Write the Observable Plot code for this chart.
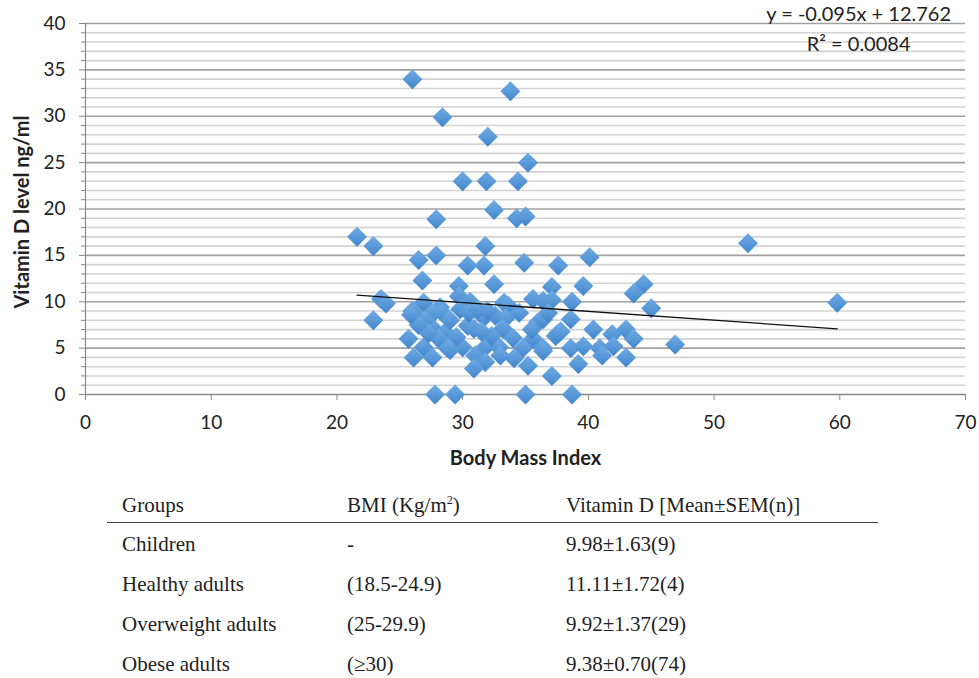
<!DOCTYPE html>
<html>
<head>
<meta charset="utf-8">
<script src="https://cdn.jsdelivr.net/npm/d3@7"></script>
<script src="https://cdn.jsdelivr.net/npm/@observablehq/plot@0.6"></script>
<style>
  html, body { margin: 0; padding: 0; background: #fff; }
  #chart { width: 979px; height: 478px; }
  #tbl { position: absolute; left: 107px; top: 489px; width: 771px; border-collapse: collapse;
         font-family: "Liberation Serif", "Times New Roman", serif; font-size: 21px; color: #222; }
  #tbl td, #tbl th { padding: 0; font-weight: normal; text-align: left; white-space: nowrap; }
  #tbl th { height: 33px; border-bottom: 1px solid #444; vertical-align: middle; }
  #tbl td { height: 40px; vertical-align: middle; padding-top: 3px; box-sizing: border-box; }
  #tbl .c1 { width: 225px; padding-left: 15px; }
  #tbl .c2 { width: 219px; }
</style>
</head>
<body>
<div id="chart"></div>
<table id="tbl"><thead></thead><tbody></tbody></table>
<script>
// BMI values (x) and vitamin D levels (y)
const bmi = [
  26.0, 33.8, 28.4, 32.0, 35.2, 30.0, 31.9, 34.4, 32.5, 27.9, 34.3, 35.0, 21.6, 22.9, 31.8, 52.7,
  26.5, 27.9, 30.4, 31.7, 34.9, 37.6, 40.1, 26.8, 29.7, 32.5, 37.1, 39.6, 44.4, 43.6, 45.0, 59.8,
  46.9, 23.5, 23.9, 22.9, 26.9, 28.2, 29.7, 30.6, 33.3, 35.6, 36.4, 37.1, 38.7, 29.8, 33.6, 26.3,
  27.6, 28.4, 31.7, 32.6, 33.4, 36.0, 36.4, 38.6, 27.6, 28.6, 30.4, 30.9, 33.2, 37.8, 37.4, 40.4,
  41.9, 43.0, 25.7, 28.1, 34.0, 35.6, 37.6, 43.6, 26.9, 28.8, 30.0, 31.8, 32.9, 34.8, 36.4, 38.6,
  39.6, 40.9, 42.0, 36.4, 26.1, 27.6, 31.0, 34.1, 41.1, 43.0, 31.8, 39.2, 30.9, 35.2, 37.1, 27.8,
  29.4, 35.0, 38.7, 26.0, 27.0, 29.0, 30.5, 31.2, 32.0, 34.5, 35.5, 29.5, 32.3, 27.3, 26.5, 33.0,
  29.0, 36.8, 31.5, 25.9
];
const vitD = [
  34.0, 32.7, 29.9, 27.8, 25.0, 23.0, 23.0, 23.0, 19.9, 18.9, 19.0, 19.2, 17.0, 16.0, 16.0, 16.3,
  14.5, 15.0, 13.9, 13.9, 14.2, 13.9, 14.8, 12.3, 11.7, 11.9, 11.6, 11.7, 11.9, 10.9, 9.3, 9.9,
  5.4, 10.3, 9.8, 8.0, 9.9, 9.4, 10.6, 10.0, 9.9, 10.3, 10.1, 10.2, 10.0, 9.2, 9.6, 8.5,
  8.7, 8.8, 8.3, 8.5, 8.2, 7.8, 8.1, 8.1, 7.2, 6.7, 7.4, 7.1, 7.1, 6.8, 6.3, 7.0,
  6.5, 7.0, 6.0, 6.0, 6.1, 6.0, 6.6, 6.0, 5.1, 5.0, 5.1, 5.1, 5.1, 5.0, 5.0, 5.0,
  5.2, 5.0, 5.2, 4.7, 4.0, 4.0, 4.2, 3.9, 4.2, 4.0, 3.5, 3.3, 2.8, 3.1, 2.0, 0,
  0, 0, 0, 9.0, 8.0, 8.0, 8.8, 9.2, 9.0, 8.8, 7.0, 6.2, 6.3, 6.6, 7.5, 4.2,
  4.8, 8.8, 6.8, 8.6
];
// trend line coefficients (slope, intercept) and label texts
const trendCoef = [-0.095, 12.762];
const eqLabels = ["y = -0.095x + 12.762", "R² = 0.0084"];
const eqX = [61.5, 61.5];
const eqY = [41.0, 37.7];
const xTicks = [0, 10, 20, 30, 40, 50, 60, 70];
const yMajor = [0, 5, 10, 15, 20, 25, 30, 35, 40];
const yMinor = d3.range(0, 41).filter(v => v % 5 !== 0);
const xTitle = "Body Mass Index";
const yTitle = "Vitamin D level ng/ml";

// table
const tblHead = ["Groups", "BMI (Kg/m²)", "Vitamin D [Mean±SEM(n)]"];
const groups = ["Children", "Healthy adults", "Overweight adults", "Obese adults"];
const bmiRanges = ["-", "(18.5-24.9)", "(25-29.9)", "(≥30)"];
const vitDStats = ["9.98±1.63(9)", "11.11±1.72(4)", "9.92±1.37(29)", "9.38±0.70(74)"];

const points = bmi.map((x, i) => ({x, y: vitD[i]}));
const xr = d3.extent(bmi);
const trend = xr.map(x => ({x, y: trendCoef[0] * x + trendCoef[1]}));
const eqs = eqLabels.map((t, i) => ({t, x: eqX[i], y: eqY[i]}));

const font = "Lato, 'Open Sans', sans-serif";
const plot = Plot.plot({
  width: 979, height: 478,
  marginLeft: 85, marginRight: 14, marginTop: 23, marginBottom: 84,
  style: {fontFamily: font, fontSize: "18px", color: "#222", background: "#fff"},
  x: {domain: [0, 70], axis: null},
  y: {domain: [0, 40], axis: null},
  marks: [
    Plot.ruleY(yMinor, {stroke: "#d2d2d2", strokeWidth: 1.6}),
    Plot.ruleY(yMajor.filter(v => v > 0), {stroke: "#a0a0a0", strokeWidth: 1.6}),
    Plot.axisY({ticks: yMinor, tickSize: 4, text: null, stroke: "#888", label: null}),
    Plot.axisY({ticks: yMajor, tickSize: 6, tickPadding: 14, stroke: "#888", fill: "#222", fontSize: 19, label: null}),
    Plot.axisX({ticks: xTicks, tickSize: 6, tickPadding: 15, stroke: "#888", fill: "#222", fontSize: 19, label: null}),
    Plot.ruleX([0], {stroke: "#888", strokeWidth: 1.2}),
    Plot.ruleY([0], {stroke: "#888", strokeWidth: 1.4}),
    Plot.dot(points, {x: "x", y: "y", symbol: "diamond2", r: 9, fill: "url(#diaGrad)", stroke: "none"}),
    Plot.line(trend, {x: "x", y: "y", stroke: "#111", strokeWidth: 1.3}),
    Plot.text(eqs, {x: "x", y: "y", text: "t", fontSize: 20, fill: "#222"}),
    Plot.text([xTitle], {frameAnchor: "bottom", lineAnchor: "middle", dy: 64, fontSize: 20, fontWeight: "bold", fill: "#222"}),
    Plot.text([yTitle], {frameAnchor: "left", dx: -63, dy: 3, rotate: -90, textAnchor: "middle", fontSize: 20, fontWeight: "bold", fill: "#222"})
  ]
});
const ns = "http://www.w3.org/2000/svg";
const defs = document.createElementNS(ns, "defs");
defs.innerHTML = '<linearGradient id="diaGrad" x1="0" y1="0" x2="0" y2="1">' +
  '<stop offset="0" stop-color="#6fa9e2"/><stop offset="0.5" stop-color="#5a9ad9"/>' +
  '<stop offset="1" stop-color="#3f85cc"/></linearGradient>';
plot.insertBefore(defs, plot.firstChild);
document.getElementById("chart").appendChild(plot);

const thead = document.querySelector("#tbl thead");
const tr = document.createElement("tr");
tblHead.forEach((h, i) => {
  const th = document.createElement("th");
  th.className = "c" + (i + 1);
  th.innerHTML = i === 1 ? "BMI (Kg/m<sup style='font-size:12px'>2</sup>)" : h;
  tr.appendChild(th);
});
thead.appendChild(tr);
const tbody = document.querySelector("#tbl tbody");
groups.forEach((g, i) => {
  const r = document.createElement("tr");
  [g, bmiRanges[i], vitDStats[i]].forEach((v, j) => {
    const td = document.createElement("td");
    td.className = "c" + (j + 1);
    td.textContent = v;
    r.appendChild(td);
  });
  tbody.appendChild(r);
});
</script>
</body>
</html>
